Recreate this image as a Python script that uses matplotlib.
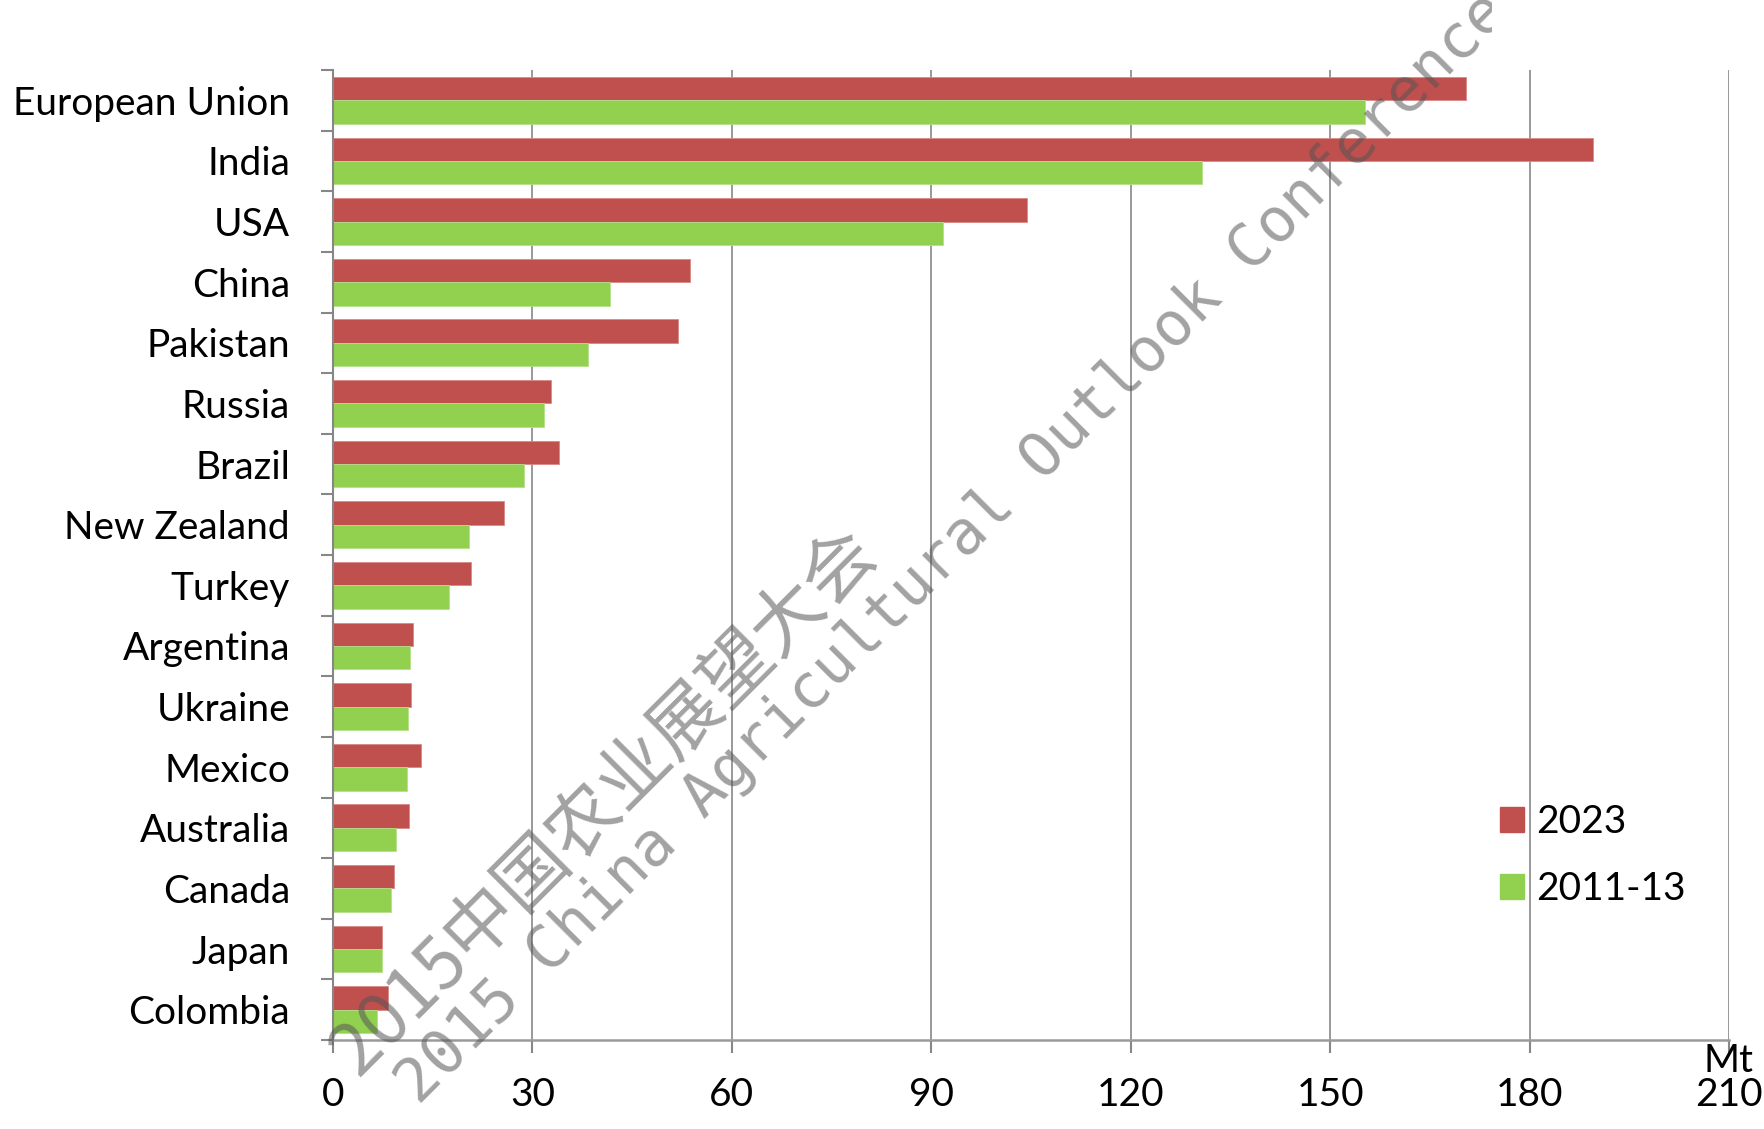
import matplotlib
matplotlib.use("Agg")
import matplotlib.pyplot as plt
import numpy as np
from matplotlib.transforms import Bbox, TransformedBbox
from matplotlib.patches import Patch

countries = ["European Union", "India", "USA", "China", "Pakistan", "Russia",
             "Brazil", "New Zealand", "Turkey", "Argentina", "Ukraine", "Mexico",
             "Australia", "Canada", "Japan", "Colombia"]
v2023 = [170.5, 189.5, 104.4, 53.7, 51.9, 32.8, 34.0, 25.7, 20.7, 12.0, 11.8,
         13.2, 11.4, 9.2, 7.4, 8.3]
v2011 = [155.2, 130.7, 91.7, 41.7, 38.4, 31.8, 28.7, 20.5, 17.5, 11.6, 11.3,
         11.2, 9.5, 8.8, 7.4, 6.6]
series_labels = ["2023", "2011-13"]
xticks = [0, 30, 60, 90, 120, 150, 180, 210]
unit_label = "Mt"
wm_cn = "2015中国农业展望大会"
wm_en = "2015 China Agricultural Outlook Conference"

RED = "#C0504D"
GREEN = "#92D050"
GRID = "#878787"
W, H = 1765, 1129
FONT = "Lato"

fig = plt.figure(figsize=(W / 100, H / 100), dpi=100)
ax = fig.add_axes([333 / W, 1 - 1040 / H, (1729 - 333) / W, (1040 - 70) / H])

y = np.arange(len(countries))
h = 0.385
ax.barh(y - h / 2, v2023, height=h, color=RED, edgecolor="#D98A88", linewidth=0.6,
        label=series_labels[0], zorder=2)
ax.barh(y + h / 2, v2011, height=h, color=GREEN, edgecolor="#B5E08A", linewidth=0.6,
        label=series_labels[1], zorder=2)

ax.set_ylim(len(countries) - 0.5, -0.5)
ax.set_xlim(0, 210)
ax.set_xticks(xticks)
ax.set_xticklabels([str(t) for t in xticks], fontsize=28, fontfamily=FONT)
ax.set_yticks(y)
ax.set_yticklabels(countries, fontsize=28, fontfamily=FONT)
ax.set_yticks(np.arange(-0.5, len(countries), 1.0), minor=True)
ax.tick_params(axis="y", which="major", length=0, pad=31)
ax.tick_params(axis="y", which="minor", length=9, width=1.5, color=GRID, direction="out")
ax.tick_params(axis="x", which="major", length=9.5, width=1.5, color=GRID,
               direction="out", pad=17)

ax.grid(axis="x", color=GRID, linewidth=1.2, zorder=1)
ax.set_axisbelow(True)
for s in ["top", "right"]:
    ax.spines[s].set_visible(False)
ax.spines["left"].set_color(GRID)
ax.spines["left"].set_linewidth(1.5)
ax.spines["bottom"].set_color("#9a9a9a")
ax.spines["bottom"].set_linewidth(1.8)

fig.text(1754 / W, 57 / H, unit_label, ha="right", va="baseline", fontsize=28,
         fontfamily=FONT)

handles = [Patch(facecolor=RED, edgecolor=RED), Patch(facecolor=GREEN, edgecolor=GREEN)]
leg = fig.legend(handles, series_labels, loc="upper left",
                 bbox_to_anchor=(1500 / W, 1 - 804 / H), frameon=False,
                 prop={"family": FONT, "size": 28}, handlelength=0.62,
                 handleheight=0.62, handletextpad=0.3, labelspacing=0.8,
                 borderpad=0, borderaxespad=0)

# watermarks
t_cn = fig.text(358 / W, (H - 1078) / H, wm_cn, rotation=45, rotation_mode="anchor",
                ha="left", va="baseline", fontsize=52, color="#555555", alpha=0.55,
                family=["Noto Sans CJK SC", "DejaVu Sans"], zorder=10)
t_en = fig.text(419 / W, (H - 1106) / H, wm_en, rotation=45, rotation_mode="anchor",
                ha="left", va="baseline", fontsize=44, color="#555555", alpha=0.55,
                family=["DejaVu Sans Mono"], zorder=10)
t_en.set_clip_box(TransformedBbox(Bbox([[0, 0], [1492 / W, 1]]), fig.transFigure))
t_en.set_clip_on(True)

fig.savefig("out.png", dpi=100)
